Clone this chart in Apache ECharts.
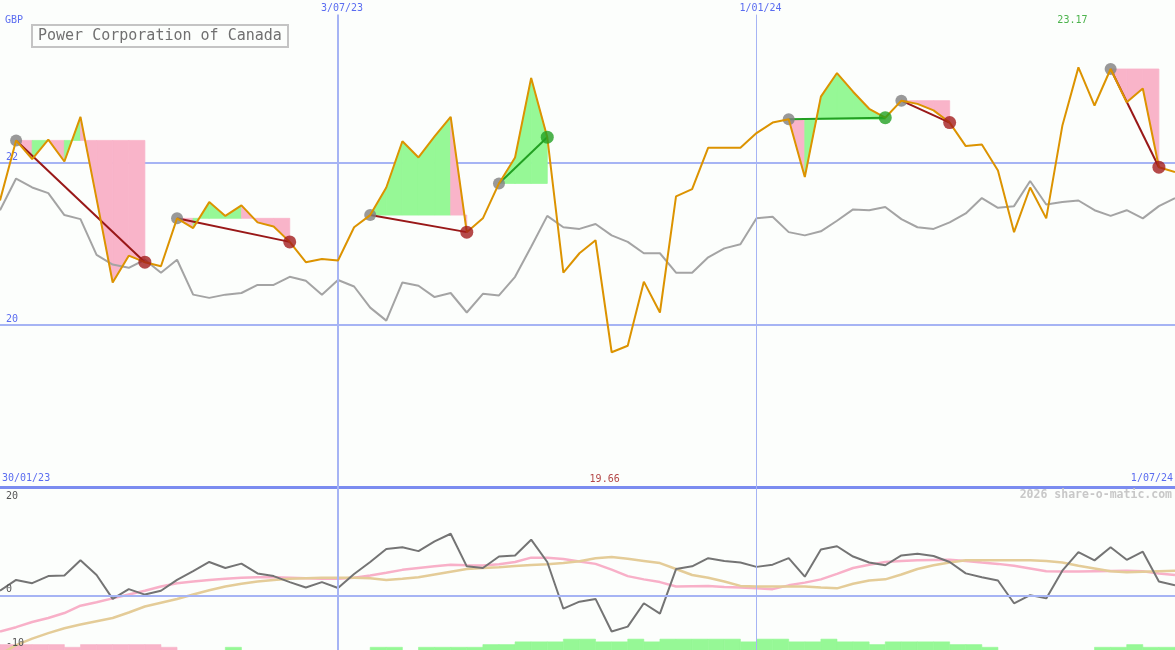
<!DOCTYPE html>
<html><head><meta charset="utf-8">
<script src="https://cdn.jsdelivr.net/npm/echarts@6/dist/echarts.min.js"></script>
<style>html,body{margin:0;padding:0;background:#fcfefc}#c{width:1175px;height:650px}</style>
</head><body><div id="c"></div>
<script>
// ---- data (weekly points, index 0 .. 73) ----
const price = [21.53, 22.27, 22.04, 22.28, 22.01, 22.56, 21.55, 20.52, 20.85, 20.77,
  20.72, 21.31, 21.19, 21.51, 21.34, 21.47, 21.26, 21.21, 21.02, 20.77,
  20.81, 20.79, 21.20, 21.35, 21.69, 22.26, 22.06, 22.32, 22.56, 21.14,
  21.31, 21.74, 22.06, 23.04, 22.31, 20.64, 20.88, 21.04, 19.66, 19.74,
  20.53, 20.15, 21.58, 21.67, 22.18, 22.18, 22.18, 22.36, 22.49, 22.53,
  21.82, 22.81, 23.10, 22.87, 22.66, 22.55, 22.76, 22.72, 22.64, 22.49,
  22.20, 22.22, 21.90, 21.14, 21.69, 21.31, 22.45, 23.17, 22.70, 23.15,
  22.74, 22.91, 21.94, 21.88];
const compare = [21.41, 21.80, 21.69, 21.62, 21.35, 21.30, 20.86, 20.74, 20.70, 20.80,
  20.64, 20.80, 20.37, 20.33, 20.37, 20.39, 20.49, 20.49, 20.59, 20.54,
  20.37, 20.55, 20.47, 20.21, 20.05, 20.52, 20.48, 20.34, 20.39, 20.15,
  20.38, 20.36, 20.59, 20.96, 21.34, 21.20, 21.18, 21.24, 21.10, 21.02,
  20.88, 20.88, 20.64, 20.64, 20.83, 20.94, 20.99, 21.31, 21.33, 21.14,
  21.10, 21.15, 21.28, 21.42, 21.41, 21.45, 21.30, 21.20, 21.18, 21.26,
  21.37, 21.56, 21.44, 21.46, 21.77, 21.48, 21.51, 21.53, 21.41, 21.34,
  21.41, 21.31, 21.46, 21.56];
const momentum = [0.9, 2.9, 2.3, 3.6, 3.7, 6.5, 3.8, -0.6, 1.2, 0.2,
  0.9, 2.9, 4.5, 6.2, 5.1, 5.9, 4.1, 3.6, 2.5, 1.5,
  2.5, 1.4, 4.0, 6.2, 8.6, 8.9, 8.2, 10.0, 11.4, 5.4,
  5.1, 7.2, 7.4, 10.3, 6.2, -2.4, -1.1, -0.6, -6.6, -5.7,
  -1.4, -3.3, 4.9, 5.4, 6.9, 6.4, 6.1, 5.3, 5.7, 6.9,
  3.5, 8.5, 9.1, 7.2, 6.1, 5.6, 7.4, 7.7, 7.3, 6.2,
  4.1, 3.4, 2.8, -1.4, 0.1, -0.5, 4.6, 8.0, 6.5, 8.9,
  6.6, 8.1, 2.6, 1.9];
const avgFast = [-6.6, -5.8, -4.85, -4.1, -3.2, -1.85, -1.2, -0.5, 0.2, 0.9,
  1.7, 2.3, 2.6, 2.9, 3.1, 3.3, 3.4, 3.4, 3.3, 3.2,
  3.1, 3.1, 3.3, 3.7, 4.2, 4.75, 5.1, 5.4, 5.7, 5.6,
  5.55, 5.8, 6.2, 7.0, 7.0, 6.75, 6.3, 5.85, 4.8, 3.6,
  3.0, 2.5, 1.7, 1.75, 1.8, 1.6, 1.5, 1.35, 1.2, 1.9,
  2.4, 3.0, 4.0, 5.1, 5.7, 6.2, 6.4, 6.5, 6.55, 6.6,
  6.4, 6.1, 5.85, 5.5, 5.0, 4.5, 4.45, 4.45, 4.5, 4.55,
  4.6, 4.5, 4.1, 3.8];
const avgSlow = [-10.8, -9.1, -7.9, -6.9, -6.0, -5.3, -4.7, -4.1, -3.1, -2.0,
  -1.3, -0.6, 0.2, 1.0, 1.7, 2.2, 2.6, 2.9, 3.1, 3.2,
  3.3, 3.3, 3.3, 3.2, 2.9, 3.1, 3.4, 3.9, 4.4, 4.9,
  5.1, 5.25, 5.45, 5.65, 5.8, 6.0, 6.35, 6.9, 7.1, 6.8,
  6.4, 6.0, 4.9, 3.8, 3.3, 2.6, 1.8, 1.7, 1.7, 1.7,
  1.7, 1.5, 1.35, 2.2, 2.8, 3.0, 3.9, 4.9, 5.6, 6.1,
  6.5, 6.5, 6.5, 6.5, 6.5, 6.4, 6.1, 5.5, 5.0, 4.5,
  4.3, 4.4, 4.5, 4.6];
// weekly histogram levels (interval i .. i+1); + green, - pink
const histo = [-2, -2, -2, -2, -1, -2, -2, -2, -2, -2,
  -1, 0, 0, 0, 1, 0, 0, 0, 0, 0,
  0, 0, 0, 1, 1, 0, 1, 1, 1, 1,
  2, 2, 3, 3, 3, 4, 4, 3, 3, 4,
  3, 4, 4, 4, 4, 4, 3, 4, 4, 3,
  3, 4, 3, 3, 2, 3, 3, 3, 3, 2,
  2, 1, 0, 0, 0, 0, 0, 0, 1, 1,
  2, 1, 1];
const tradeEntries = [1, 11, 23, 31, 49, 56, 69];
const tradeExits = [9, 18, 29, 34, 55, 59, 72];
const dateTickIdx = [21, 47];
const dateTickText = ['3/07/23', '1/01/24'];
const rangeText = ['30/01/23', '1/07/24'];
const priceTicks = [20, 22];
const lowerTicks = [20, 0, -10];

// ---- styles ----
const BG = '#fcfefc';
const BLUE = '#5a6cf0';
const GRIDC = '#a6b4f4';
const MONO = 'DejaVu Sans Mono';
const PINK_FILL = '#f9b4c9';
const GREEN_FILL = '#96f896';
const RED = '#a31d1d';
const GREEN = '#22a022';
const LAST = price.length - 1;

const pts = arr => arr.map((v, i) => [i, v]);

const fillData = [];
tradeEntries.forEach((e, t) => {
  const x = tradeExits[t];
  for (let k = e; k < x; k++) fillData.push([k, price[e], price[k], price[k + 1], price[k + 1] > price[e] ? 1 : 0]);
});
const tradeLines = tradeEntries.map((e, t) => [e, price[e], tradeExits[t], price[tradeExits[t]]]);
const entryPts = tradeEntries.map(e => [e, price[e]]);
const exitPts = tradeEntries.map((e, t) => {
  const x = tradeExits[t];
  return { value: [x, price[x]], itemStyle: { color: price[x] > price[e] ? GREEN : RED } };
});
let minI = 0, maxI = 0;
price.forEach((v, i) => { if (v < price[minI]) minI = i; if (v > price[maxI]) maxI = i; });
const histData = histo.map((v, i) => [i, v]);

const chart = echarts.init(document.getElementById('c'));
chart.setOption({
  animation: false,
  backgroundColor: BG,
  title: [
    { text: 'Power Corporation of Canada', left: 32, top: 25, padding: [4, 6, 3, 6],
      borderColor: '#c4c4c4', borderWidth: 2,
      textStyle: { fontFamily: MONO, fontSize: 15, fontWeight: 'normal', color: '#707070' } },
    { text: '2026 share-o-matic.com', right: 3, top: 489, padding: 0,
      textStyle: { fontFamily: MONO, fontSize: 11.5, fontWeight: 'bold', color: '#c8c8c8' } }
  ],
  grid: [
    { left: 0, right: 0, top: 0, height: 487, outerBoundsMode: 'none', containLabel: false },
    { left: 0, right: 0, top: 487, height: 163, outerBoundsMode: 'none', containLabel: false }
  ],
  xAxis: [
    { gridIndex: 0, type: 'value', min: 0, max: LAST, position: 'top',
      axisLine: { show: false }, axisTick: { show: false }, splitLine: { show: false },
      axisLabel: { inside: true, margin: 3, customValues: dateTickIdx, padding: [0, 0, 0, 8],
        formatter: v => dateTickText[dateTickIdx.indexOf(v)] || '',
        color: BLUE, fontFamily: MONO, fontSize: 10 } },
    { gridIndex: 0, type: 'value', min: 0, max: LAST, position: 'bottom',
      axisLine: { show: true, onZero: false, lineStyle: { color: '#7b8cf0', width: 3 } },
      axisTick: { show: false }, splitLine: { show: false },
      axisLabel: { inside: true, margin: 4, customValues: [0], formatter: () => rangeText[0], padding: [0, 0, 0, 2],
        align: 'left', color: BLUE, fontFamily: MONO, fontSize: 10 } },
    { gridIndex: 1, type: 'value', min: 0, max: LAST, position: 'top',
      axisLine: { show: false }, axisTick: { show: false }, splitLine: { show: false },
      axisLabel: { inside: false, margin: 4, customValues: [LAST], formatter: () => rangeText[1], padding: [0, 2, 0, 0],
        align: 'right', color: BLUE, fontFamily: MONO, fontSize: 10 } },
    { gridIndex: 1, type: 'value', min: 0, max: LAST, position: 'bottom', show: false }
  ],
  yAxis: [
    { gridIndex: 0, type: 'value', min: 18, max: 24, interval: 2,
      name: 'GBP', nameLocation: 'end', nameGap: -20,
      nameTextStyle: { align: 'left', verticalAlign: 'middle', padding: [0, 0, 0, 5], color: BLUE, fontFamily: MONO, fontSize: 10 },
      axisLine: { show: false }, axisTick: { show: false },
      splitLine: { show: true, showMinLine: false, showMaxLine: false, lineStyle: { color: GRIDC, width: 2 } },
      axisLabel: { inside: true, margin: 6, verticalAlign: 'bottom', color: BLUE, fontFamily: MONO, fontSize: 10,
        formatter: v => priceTicks.includes(v) ? String(v) : '' } },
    { gridIndex: 1, type: 'value', min: -10, max: 20, interval: 10, z: 10,
      axisLine: { show: false }, axisTick: { show: false }, splitLine: { show: false },
      axisLabel: { inside: true, margin: 6, verticalAlign: 'middle', color: '#555', fontFamily: MONO, fontSize: 10,
        formatter: v => !lowerTicks.includes(v) ? '' : (v === 20 ? '{a|' + v + '}' : '{b|' + v + '}'),
        rich: { a: { padding: [18, 0, 0, 0], color: '#555', fontFamily: MONO, fontSize: 10 },
                b: { padding: [0, 0, 13, 0], color: '#555', fontFamily: MONO, fontSize: 10 } } } }
  ],
  series: [
    { type: 'custom', name: 'trade fills', xAxisIndex: 0, yAxisIndex: 0, z: 1, silent: true,
      data: fillData,
      renderItem: (params, api) => {
        const k = api.value(0), E = api.value(1), a = api.value(2), b = api.value(3), up = api.value(4);
        const c = up ? GREEN_FILL : PINK_FILL;
        return { type: 'polygon',
          shape: { points: [api.coord([k, E]), api.coord([k, a]), api.coord([k + 1, b]), api.coord([k + 1, E])] },
          style: { fill: c, stroke: c, lineWidth: 0.8 } };
      } },
    { type: 'line', name: 'comparison', xAxisIndex: 0, yAxisIndex: 0, z: 2, data: pts(compare),
      showSymbol: false, symbol: 'none', lineStyle: { color: '#a4a4a4', width: 2 }, silent: true,
      markLine: { silent: true, symbol: 'none', label: { show: false },
        lineStyle: { color: GRIDC, type: 'solid' },
        data: [
          [{ coord: [dateTickIdx[0], 23.82], lineStyle: { width: 2 } }, { coord: [dateTickIdx[0], 18] }],
          [{ coord: [dateTickIdx[1], 23.82], lineStyle: { width: 1 } }, { coord: [dateTickIdx[1], 18] }]
        ] } },
    { type: 'custom', name: 'trade lines', xAxisIndex: 0, yAxisIndex: 0, z: 3, silent: true,
      data: tradeLines,
      renderItem: (params, api) => {
        const p1 = api.coord([api.value(0), api.value(1)]);
        const p2 = api.coord([api.value(2), api.value(3)]);
        return { type: 'line', shape: { x1: p1[0], y1: p1[1], x2: p2[0], y2: p2[1] },
          style: { stroke: api.value(3) > api.value(1) ? GREEN : '#991818', lineWidth: 2 } };
      } },
    { type: 'scatter', name: 'entries', xAxisIndex: 0, yAxisIndex: 0, z: 4, data: entryPts,
      symbolSize: 12, itemStyle: { color: '#808080' }, silent: true },
    { type: 'line', name: 'price', xAxisIndex: 0, yAxisIndex: 0, z: 5, data: pts(price),
      showSymbol: false, symbol: 'none', lineStyle: { color: '#dc9300', width: 2 }, silent: true },
    { type: 'scatter', name: 'exits', xAxisIndex: 0, yAxisIndex: 0, z: 6, data: exitPts,
      symbolSize: 13, silent: true },
    { type: 'scatter', name: 'extremes', xAxisIndex: 0, yAxisIndex: 0, z: 7, symbolSize: 0, clip: false, silent: true,
      data: [
        { value: [minI, 18], label: { show: true, position: 'top', distance: 3, offset: [-7, 0], color: '#a01818',
            formatter: () => price[minI].toFixed(2), fontFamily: MONO, fontSize: 10 } },
        { value: [maxI, 24], label: { show: true, position: 'bottom', distance: 15, offset: [-6, 0], color: '#20a020',
            formatter: () => price[maxI].toFixed(2), fontFamily: MONO, fontSize: 10 } }
      ] },
    // lower panel
    { type: 'custom', name: 'histogram', xAxisIndex: 3, yAxisIndex: 1, z: 1, silent: true,
      data: histData,
      renderItem: (params, api) => {
        const i = api.value(0), v = api.value(1);
        if (!v) return null;
        const p1 = api.coord([i, -10 + Math.abs(v) * 0.5]);
        const p2 = api.coord([i + 1, -10]);
        const c = v > 0 ? GREEN_FILL : PINK_FILL;
        return { type: 'rect', shape: { x: p1[0], y: p1[1], width: p2[0] - p1[0], height: p2[1] - p1[1] + 2 },
          style: { fill: c, stroke: c, lineWidth: 0.6 } };
      } },
    { type: 'line', name: 'fast avg', xAxisIndex: 3, yAxisIndex: 1, z: 2, data: pts(avgFast),
      showSymbol: false, symbol: 'none', lineStyle: { color: '#f8b0c8', width: 2.5 }, silent: true,
      markLine: { silent: true, symbol: 'none', label: { show: false },
        lineStyle: { color: GRIDC, type: 'solid' },
        data: [[{ coord: [0, 0], lineStyle: { width: 2 } }, { coord: [LAST, 0] }],
               [{ coord: [dateTickIdx[0], 20], lineStyle: { width: 2 } }, { coord: [dateTickIdx[0], -10] }],
               [{ coord: [dateTickIdx[1], 20], lineStyle: { width: 1 } }, { coord: [dateTickIdx[1], -10] }]] } },
    { type: 'line', name: 'slow avg', xAxisIndex: 3, yAxisIndex: 1, z: 3, data: pts(avgSlow),
      showSymbol: false, symbol: 'none', lineStyle: { color: '#e4cc98', width: 2.5 }, silent: true },
    { type: 'line', name: 'momentum', xAxisIndex: 3, yAxisIndex: 1, z: 4, data: pts(momentum),
      showSymbol: false, symbol: 'none', lineStyle: { color: '#747474', width: 2 }, silent: true }
  ]
});
</script>
</body></html>
